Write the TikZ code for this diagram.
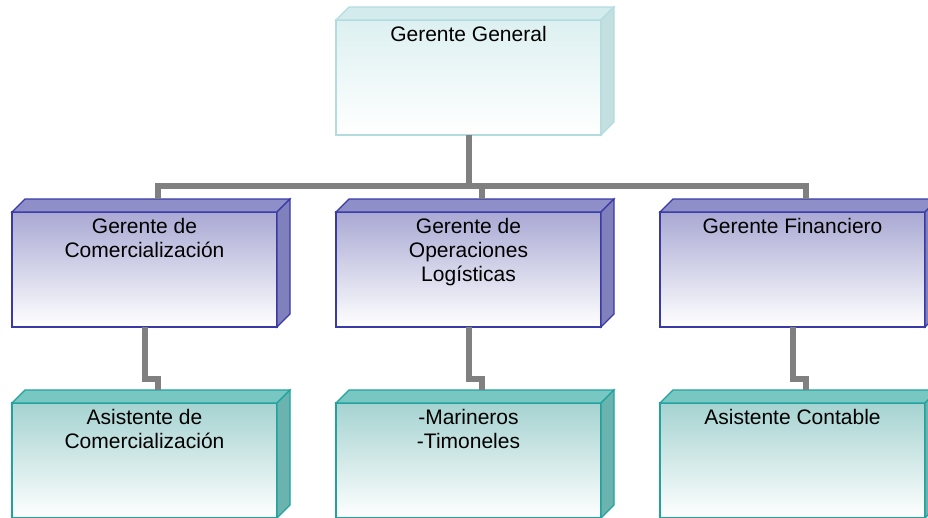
\documentclass[tikz,border=0pt]{standalone}
\usepackage{fontspec}
\setmainfont{Liberation Sans}
\usetikzlibrary{positioning,calc}

\definecolor{TopFill}{HTML}{DDF0F1}
\definecolor{TopLine}{HTML}{B2DCDE}
\definecolor{TopRoof}{HTML}{D3EBEC}
\definecolor{TopSide}{HTML}{C3DFE0}
\definecolor{MidFill}{HTML}{A9A9D4}
\definecolor{MidLine}{HTML}{3A3AA6}
\definecolor{MidRoof}{HTML}{8E8EC9}
\definecolor{MidSide}{HTML}{8080BC}
\definecolor{LowFill}{HTML}{A5D3D1}
\definecolor{LowLine}{HTML}{20A39E}
\definecolor{LowRoof}{HTML}{78C7C3}
\definecolor{LowSide}{HTML}{6AB3AF}
\definecolor{LinkGray}{HTML}{808080}

\begin{document}
\begin{tikzpicture}[
  x=1pt, y=1pt,
  font=\fontsize{21}{24}\selectfont,
  node distance = 76pt and 59pt,
BoxBase/.style={minimum width=265pt, minimum height=115pt,
                inner sep=0pt, outer sep=0pt, line width=1.2pt},
TopBox/.style={BoxBase, draw=TopLine, top color=TopFill,
               middle color=TopFill!60!white, bottom color=white},
MidBox/.style={BoxBase, draw=MidLine, line width=1.6pt, top color=MidFill,
               middle color=MidFill!55!white, bottom color=white},
LowBox/.style={BoxBase, draw=LowLine, top color=LowFill,
               middle color=LowFill!55!white, bottom color=white},
BoxText/.style={anchor=north, align=center, inner sep=0pt, yshift=-6.5pt},
Link/.style={draw=LinkGray, line width=6pt},
  ]
\clip (0,0) rectangle (928,-517);

\node [MidBox] (gc) at (144.5,-269.5) {};
\node [MidBox, right=of gc] (go) {};
\node [MidBox, right=of go] (gf) {};
\node [TopBox, above=77pt of go] (gg) {};
\node [LowBox, below=of gc] (ac) {};
\node [LowBox, below=of go] (mt) {};
\node [LowBox, below=of gf] (act) {};

\foreach \n/\s in {gg/Top, gc/Mid, go/Mid, gf/Mid, ac/Low, mt/Low, act/Low}{
  \draw [draw=\s Line, fill=\s Roof, line width=1.2pt]
    (\n.north west) -- ++(13,13) -- ($(\n.north east)+(13,13)$)
    -- (\n.north east) -- cycle;
  \draw [draw=\s Line, fill=\s Side, line width=1.2pt]
    (\n.north east) -- ++(13,13) -- ($(\n.south east)+(13,13)$)
    -- (\n.south east) -- cycle;
  \coordinate (\n-back) at ($(\n.north)+(13,13)$);
}

\node [BoxText] (gg-t) at (gg.north) {Gerente General};
\node [BoxText] (gc-t) at (gc.north) {Gerente de\\Comercialización};
\node [BoxText] (go-t) at (go.north) {Gerente de\\Operaciones\\Logísticas};
\node [BoxText] (gf-t) at (gf.north) {Gerente Financiero};
\node [BoxText] (ac-t) at (ac.north) {Asistente de\\Comercialización};
\node [BoxText] (mt-t) at (mt.north) {-Marineros\\-Timoneles};
\node [BoxText] (act-t) at (act.north) {Asistente Contable};

\coordinate (bus) at (0,-185.5);
\coordinate (jog) at (0,-379);
\draw [Link] (gg.south) -- (gg.south |- bus);
\draw [Link] (gc-back) -- (gc-back |- bus) -| (gf-back);
\draw [Link] (go-back) -- (go-back |- bus);

\draw [Link] (gc.south) -- (gc.south |- jog) -| (ac-back);
\draw [Link] (go.south) -- (go.south |- jog) -| (mt-back);
\draw [Link] (gf.south) -- (gf.south |- jog) -| (act-back);
\end{tikzpicture}
\end{document}
